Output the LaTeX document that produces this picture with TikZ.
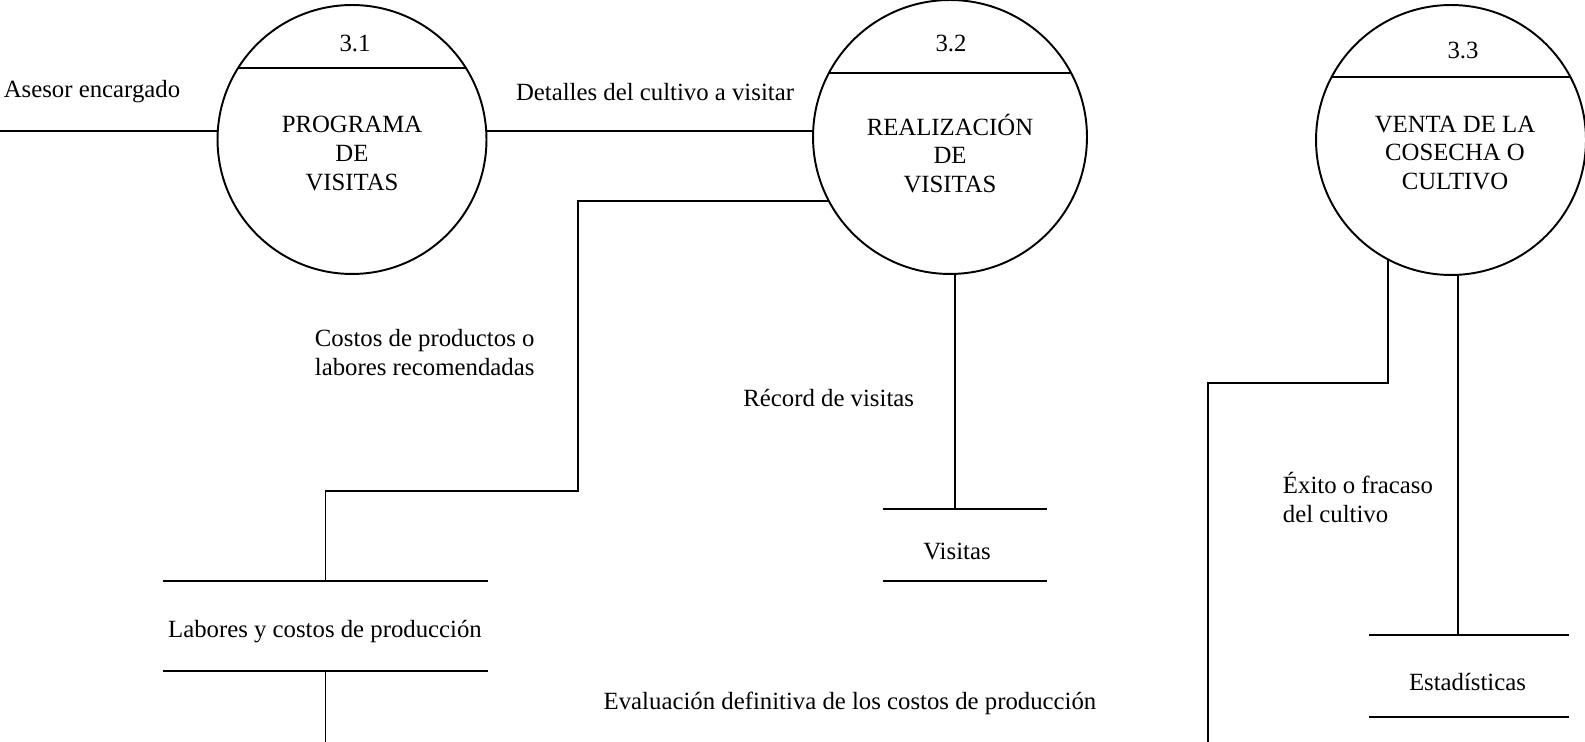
\documentclass[tikz,border=0pt]{standalone}
\usepackage{fontspec}
\setmainfont{Liberation Serif}
\usepackage{tikz}

\begin{document}
\begin{tikzpicture}[x=0.02cm,y=0.02cm,line width=1.1pt,
  font=\fontsize{14.1}{16.3}\selectfont,
  proceso/.style={circle,draw,outer sep=0pt,inner sep=0pt},
  almacen/.style={inner sep=0pt,outer sep=0pt}]
\useasboundingbox (0,0) rectangle (1585,-742);

% procesos
\node[proceso,minimum size=5.38cm] (p31) at (352,-139.5) {};
\node[proceso,minimum size=5.48cm] (p32) at (950,-137) {};
\node[proceso,minimum size=5.4cm] (p33) at (1451,-140) {};
\draw (p31.148.4) -- (p31.148.4 -| p31.31.6);
\draw (p32.152.95) -- (p32.152.95 -| p32.27.05);
\draw (p33.152.04) -- (p33.152.04 -| p33.27.96);
\node (n31) at (355,-43) {3.1};
\node (n32) at (951,-43) {3.2};
\node (n33) at (1463,-50) {3.3};
\node[align=center] (t31) at (352,-153.5) {PROGRAMA\\DE\\VISITAS};
\node[align=center] (t32) at (950,-153.5) {REALIZACIÓN\\DE\\VISITAS};
\node[align=center] (t33) at (1455,-153) {VENTA DE LA\\COSECHA O\\CULTIVO};

% almacenes
\node[almacen,minimum width=6.5cm,minimum height=1.8cm] (lab) at (325.5,-625.7) {};
\node[almacen,minimum width=3.27cm,minimum height=1.44cm] (vis) at (965,-544.7) {};
\node[almacen,minimum width=4cm,minimum height=1.64cm] (est) at (1469,-676) {};
\foreach \s in {lab,vis,est}
  \draw (\s.north west) -- (\s.north east) (\s.south west) -- (\s.south east);
\node (labt) at (325,-631.7) {Labores y costos de producción};
\node (vist) at (957,-551.7) {Visitas};
\node (estt) at (1467.5,-682) {Estadísticas};

% flujos
\coordinate (ase) at (0,-130.7);
\coordinate (q1) at (578,-490.7);
\coordinate (q2) at (1208,-383);
\coordinate (labout) at (325.5,-742);
\coordinate (exout) at (1208,-742);
\draw (ase) -- (ase -| p31.west);
\draw (ase -| p31.east) -- (ase -| p32.west);
\draw (p32.208.66) -| (q1) -| (lab.north);
\draw (lab.south) -- (labout);
\draw (p32.272.5) -- (p32.272.5 |- vis.north);
\draw (p33.242.2) |- (q2) -- (exout);
\draw (p33.273.8) -- (p33.273.8 |- est.north);

% etiquetas
\node (asesor) at (92,-91.7) {Asesor encargado};
\node (detalles) at (655,-91.7) {Detalles del cultivo a visitar};
\node[anchor=west,align=left,inner sep=0pt] (costos) at (314,-352.5) {Costos de productos o\\labores recomendadas};
\node (record) at (828.7,-397.7) {Récord de visitas};
\node (evalua) at (850,-703.3) {Evaluación definitiva de los costos de producción};
\node[anchor=west,align=left,inner sep=0pt] (exito) at (1282,-497.5) {Éxito o fracaso\\del cultivo};
\end{tikzpicture}
\end{document}
